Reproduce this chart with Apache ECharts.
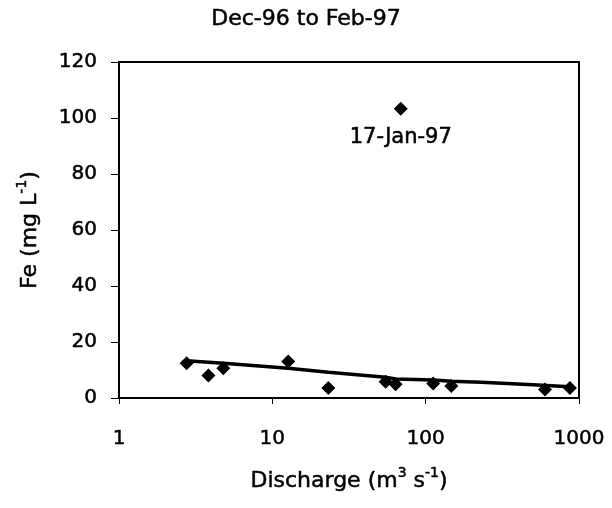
<!DOCTYPE html>
<html>
<head>
<meta charset="utf-8">
<script src="https://cdn.jsdelivr.net/npm/echarts@6/dist/echarts.min.js"></script>
<style>
  html, body { margin: 0; padding: 0; background: #fff; }
  #chart { width: 612px; height: 508px; }
</style>
</head>
<body>
<div id="chart"></div>
<script>
// Fe concentration vs discharge, Dec-96 to Feb-97
const discharge = [2.76, 3.83, 4.79, 12.7, 23.2, 54.8, 63.7, 112, 147, 600, 873, 68.8];
const fe        = [12.4, 8.0, 10.6, 13.0, 3.6, 5.8, 4.9, 5.2, 4.3, 3.0, 3.6, 103.3];
const pointNames = ['', '', '', '', '', '', '', '', '', '', '', '17-Jan-97'];

// fitted trend through the storm samples
const trendX = [2.76, 4.79, 12.7, 23.2, 54.8, 63.7, 112, 147, 230, 500, 873];
const trendY = [13.3, 12.4, 10.6, 9.2, 7.4, 6.8, 6.4, 6.0, 5.6, 4.7, 4.0];

const yTicks = { min: 0, max: 120, interval: 20 };
const xRange = { min: 1, max: 1000 };

const chartTitle = 'Dec-96 to Feb-97';

const FONT = '"DejaVu Sans", Verdana, sans-serif';
// a thin outline in the text colour gives the lettering a slightly heavier stroke
const INK = { color: '#000', textBorderColor: '#000', textBorderWidth: 0.5 };
const chart = echarts.init(document.getElementById('chart'), null, { renderer: 'canvas' });

const nameRich = {
  t: Object.assign({ fontFamily: FONT, fontSize: 22, verticalAlign: 'bottom', lineHeight: 26 }, INK),
  s: Object.assign({ fontFamily: FONT, fontSize: 14, verticalAlign: 'top', lineHeight: 26, padding: [0, 0, 9, 0] }, INK)
};

chart.setOption({
  backgroundColor: '#ffffff',
  animation: false,
  graphic: [{
    type: 'text',
    left: 'center', top: 8,
    style: {
      text: chartTitle, fontFamily: FONT, fontSize: 22, fill: '#000',
      stroke: '#000', lineWidth: 0.5, textAlign: 'center'
    }
  }],
  grid: {
    left: 119, right: 33, top: 62, bottom: 110,
    show: true, borderColor: '#000', borderWidth: 2, backgroundColor: 'transparent'
  },
  xAxis: {
    type: 'log', logBase: 10, min: xRange.min, max: xRange.max,
    name: '{t|Discharge (m}{s|3}{t| s}{s|-1}{t|)}',
    nameLocation: 'middle', nameGap: 68,
    nameTextStyle: { rich: nameRich },
    axisLine: { lineStyle: { color: '#000', width: 2 } },
    axisTick: { show: true, length: 6, lineStyle: { color: '#000', width: 1 } },
    minorTick: { show: false },
    splitLine: { show: false },
    axisLabel: Object.assign({
      margin: 31, fontFamily: FONT, fontSize: 20,
      formatter: v => String(Math.round(v))
    }, INK)
  },
  yAxis: {
    type: 'value', min: yTicks.min, max: yTicks.max, interval: yTicks.interval,
    name: '{t|Fe (mg L}{s|-1}{t|)}',
    nameLocation: 'middle', nameGap: 78, nameRotate: 90,
    nameTextStyle: { rich: nameRich },
    axisLine: { show: true, lineStyle: { color: '#000', width: 2 } },
    axisTick: { show: true, length: 8, lineStyle: { color: '#000', width: 1 } },
    splitLine: { show: false },
    axisLabel: Object.assign({ margin: 22, fontFamily: FONT, fontSize: 20 }, INK)
  },
  series: [
    {
      type: 'line',
      data: trendX.map((x, i) => [x, trendY[i]]),
      showSymbol: false,
      lineStyle: { color: '#000', width: 3.5 },
      z: 2
    },
    {
      type: 'scatter',
      symbol: 'diamond',
      symbolSize: 14,
      itemStyle: { color: '#000', opacity: 1 },
      label: Object.assign({
        show: true, position: 'bottom', distance: 11,
        formatter: p => p.name,
        fontFamily: FONT, fontSize: 21
      }, INK),
      data: discharge.map((x, i) => ({ value: [x, fe[i]], name: pointNames[i] })),
      z: 3
    }
  ]
});
</script>
</body>
</html>
